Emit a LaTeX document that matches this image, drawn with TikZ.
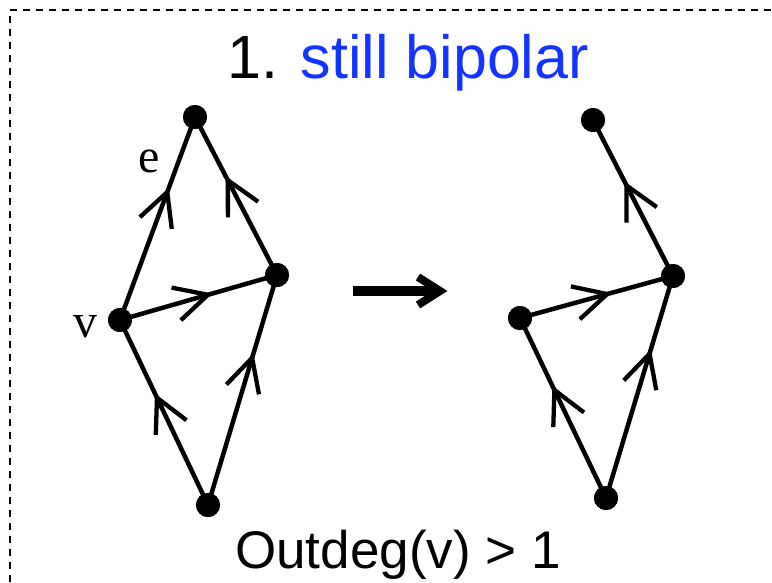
\documentclass[tikz,border=0pt]{standalone}
\usepackage{fontspec}
\setmainfont{Liberation Sans}
\newfontfamily\serifv{Liberation Serif}
\usetikzlibrary{decorations.markings}
\definecolor{titleblue}{RGB}{20,52,255}
\tikzset{
  vert/.style={circle, fill=black, inner sep=0pt, minimum size=24pt},
  edgeline/.style={line width=4.5pt},
  midarrow/.style={postaction={decorate}, decoration={markings,
      mark=at position #1 with {\draw[line width=4.3pt, line cap=butt, miter limit=20]
        (-33pt,17pt) -- (0pt,0pt) -- (-33pt,-17pt);}}},
  lbl/.style={font=\serifv\fontsize{48}{50}\selectfont, inner sep=0pt, anchor=base},
  frame/.style={line width=1.3pt, dash pattern=on 7pt off 6pt}
}
\begin{document}
\begin{tikzpicture}[x=1pt, y=-1pt]
\useasboundingbox (0,0) rectangle (772,582);
\coordinate (fa) at (10,582);
\coordinate (fb) at (10,10);
\coordinate (fc) at (772,10);
\draw[frame] (fa) -- (fb) -- (fc);

\node[inner sep=0pt, anchor=base, font=\fontsize{61}{64}\selectfont] (title) at (408,78)
  {1. \textcolor{titleblue}{still bipolar}};

% left graph
\node[vert] (t1) at (195,117) {};
\node[vert] (r1) at (277,275) {};
\node[vert] (v1) at (120,320) {};
\node[vert] (b1) at (208,505) {};
\draw[edgeline, midarrow=0.63] (v1.center) -- (t1.center);
\draw[edgeline, midarrow=0.60] (r1.center) -- (t1.center);
\draw[edgeline, midarrow=0.56] (v1.center) -- (r1.center);
\draw[edgeline, midarrow=0.58] (b1.center) -- (v1.center);
\draw[edgeline, midarrow=0.64] (b1.center) -- (r1.center);
\node[vert] at (t1) {};
\node[vert] at (r1) {};
\node[vert] at (v1) {};
\node[vert] at (b1) {};
\node[lbl] (elab) at (149,172) {e};
\node[lbl] (vlab) at (85,337) {v};

% transition arrow
\coordinate (as) at (353,291);
\coordinate (ae) at (436,291);
\coordinate (ah1) at (418,277);
\coordinate (ah2) at (440,291);
\coordinate (ah3) at (418,305);
\draw[line width=9.5pt] (as) -- (ae);
\draw[line width=8pt, line join=miter, miter limit=10] (ah1) -- (ah2) -- (ah3);

% right graph
\node[vert] (t2) at (593,120) {};
\node[vert] (r2) at (673,276) {};
\node[vert] (v2) at (520,318) {};
\node[vert] (b2) at (606,498) {};
\draw[edgeline, midarrow=0.58] (r2.center) -- (t2.center);
\draw[edgeline, midarrow=0.57] (v2.center) -- (r2.center);
\draw[edgeline, midarrow=0.60] (b2.center) -- (v2.center);
\draw[edgeline, midarrow=0.65] (b2.center) -- (r2.center);
\node[vert] at (t2) {};
\node[vert] at (r2) {};
\node[vert] at (v2) {};
\node[vert] at (b2) {};

\node[inner sep=0pt, anchor=base, font=\fontsize{53}{56}\selectfont] (cond) at (398,568)
  {Outdeg(v) > 1};
\end{tikzpicture}
\end{document}
